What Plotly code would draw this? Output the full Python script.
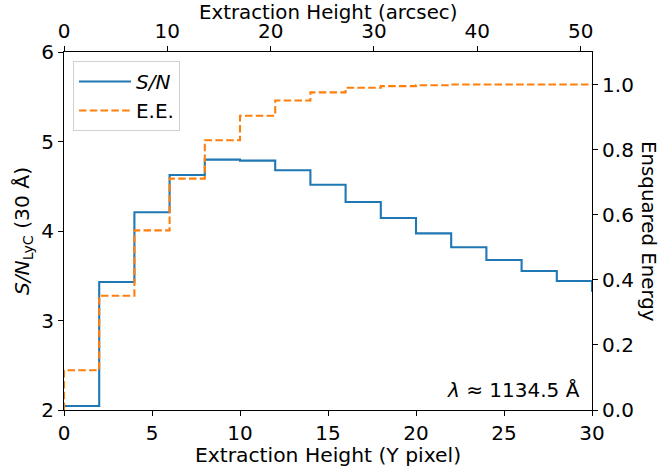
import plotly.graph_objects as go

# Extraction height bin edges (Y pixel)
height_px = [0, 2, 4, 6, 8, 10, 12, 14, 16, 18, 20, 22, 24, 26, 28, 30]
# S/N per bin (last entry = next step value drawn at the right edge)
sn_values = [2.045, 3.43, 4.21, 4.626, 4.797, 4.786, 4.678, 4.517, 4.324,
             4.145, 3.974, 3.818, 3.676, 3.553, 3.441, 3.32]
# Ensquared energy at each edge (0 at zero height)
ee_values = [0.0, 0.122, 0.351, 0.552, 0.711, 0.829, 0.904, 0.951, 0.976,
             0.990, 0.995, 0.998, 1.0, 1.0, 1.0, 1.0]

x_ticks = [0, 5, 10, 15, 20, 25, 30]
x2_ticks = [0, 10, 20, 30, 40, 50]
y_ticks = [2, 3, 4, 5, 6]
y2_ticks = [0.0, 0.2, 0.4, 0.6, 0.8, 1.0]

BLUE = "#1f77b4"
ORANGE = "#ff7f0e"
FONT = "DejaVu Sans"
TICK = 20
TITLE = 20.3

fig = go.Figure()
fig.add_trace(go.Scatter(x=height_px, y=sn_values, mode="lines",
                         line=dict(color=BLUE, width=2.1, shape="hv"),
                         name="<i>S/N</i>", xaxis="x", yaxis="y"))
fig.add_trace(go.Scatter(x=height_px, y=ee_values, mode="lines",
                         line=dict(color=ORANGE, width=2.1, shape="vh", dash="7.5px,3.3px"),
                         name="E.E.", xaxis="x", yaxis="y2"))
# invisible trace to anchor the top axis
fig.add_trace(go.Scatter(x=[0, 50], y=[2, 2], mode="markers", marker=dict(opacity=0),
                         showlegend=False, hoverinfo="skip", xaxis="x2", yaxis="y"))

axis_common = dict(showline=True, linecolor="black", linewidth=1.1, ticks="outside",
                   ticklen=5, tickwidth=1.1, tickcolor="black", showgrid=False,
                   zeroline=False, automargin=False,
                   tickfont=dict(family=FONT, size=TICK, color="black"))

fig.update_layout(
    width=661, height=467,
    margin=dict(l=64, r=69, t=52, b=57, autoexpand=False),
    paper_bgcolor="white", plot_bgcolor="white",
    font=dict(family=FONT, color="black"),
    xaxis=dict(range=[0, 30], tickvals=x_ticks, side="bottom",
               title=dict(text="Extraction Height (Y pixel)", font=dict(size=TITLE), standoff=2),
               **axis_common),
    xaxis2=dict(range=[0, 51.1], tickvals=x2_ticks, side="top", overlaying="x", anchor="y",
                **axis_common),
    yaxis=dict(range=[2, 6], tickvals=y_ticks,
               title=dict(text="<i>S/N</i><sub>LyC</sub> (30 Å)", font=dict(size=TITLE), standoff=6),
               **axis_common),
    yaxis2=dict(range=[0, 1.1], tickvals=y2_ticks, tickformat=".1f", side="right",
                overlaying="y", anchor="x", **axis_common),
    legend=dict(x=0.017, y=0.975, xanchor="left", yanchor="top",
                bgcolor="rgba(255,255,255,0.8)", bordercolor="#d0d0d0", borderwidth=1,
                font=dict(family=FONT, size=TICK), tracegroupgap=0, itemwidth=52),
    showlegend=True,
)

fig.add_annotation(text="Extraction Height (arcsec)", xref="paper", yref="paper",
                   x=0.5, y=1.0, yshift=40, xanchor="center", yanchor="middle",
                   borderpad=0, showarrow=False,
                   font=dict(family=FONT, size=19.8, color="black"))
fig.add_annotation(text="Ensquared Energy", textangle=90, xref="paper", yref="paper",
                   x=1.0, y=0.5, xshift=57, xanchor="center", yanchor="middle",
                   borderpad=0, showarrow=False,
                   font=dict(family=FONT, size=19.8, color="black"))
fig.add_annotation(text="<i>λ</i> ≈ 1134.5 Å", xref="paper", yref="paper",
                   x=0.981, y=0.056, xanchor="right", yanchor="middle", showarrow=False,
                   font=dict(family=FONT, size=TICK, color="black"))

fig.write_html("out.html")
